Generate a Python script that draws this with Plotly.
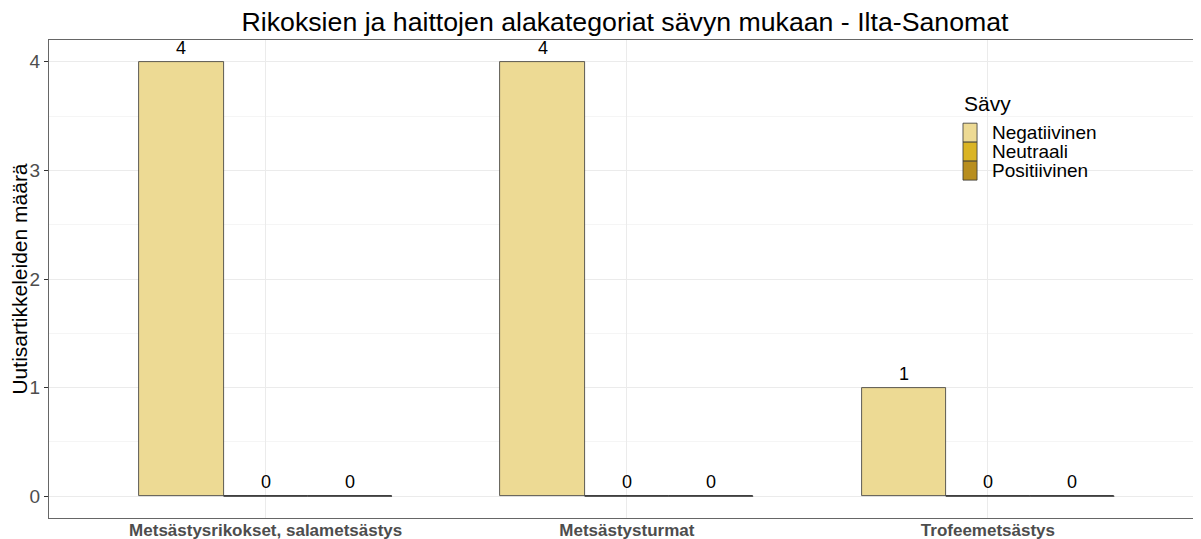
import plotly.graph_objects as go

# Data
categories = ["Metsästysrikokset, salametsästys", "Metsästysturmat", "Trofeemetsästys"]
savy = ["Negatiivinen", "Neutraali", "Positiivinen"]
negatiivinen = [4, 4, 1]
neutraali = [0, 0, 0]
positiivinen = [0, 0, 0]
colors = ["#EDDA94", "#DAB424", "#B88E1E"]

series = [negatiivinen, neutraali, positiivinen]
bar_w = 0.7 / 3

fig = go.Figure()
labels = []
for k, (name, vals, col) in enumerate(zip(savy, series, colors)):
    xs = [i + (k - 1) * bar_w for i in range(len(categories))]
    fig.add_trace(go.Bar(x=xs, y=vals, width=bar_w, name=name,
                         marker=dict(color=col, line=dict(color="#333333", width=0.8))))
    # zero-height bars are not drawn by plotly, so draw their outline
    lx, ly = [], []
    for x, v in zip(xs, vals):
        if v == 0:
            lx += [x - bar_w / 2, x + bar_w / 2, None]
            ly += [0, 0, None]
        labels.append(dict(x=x, y=v, text=str(v), showarrow=False, yanchor="bottom", yshift=2,
                           font=dict(size=18, color="black")))
    if lx:
        fig.add_trace(go.Scatter(x=lx, y=ly, mode="lines", showlegend=False, hoverinfo="skip",
                                 line=dict(color="#333333", width=1)))

# ggplot-style legend (stacked key boxes), placed in paper coordinates
leg_x, leg_top, key_h, key_w = 0.7934, 0.826, 0.0397, 0.0122
labels.append(dict(x=leg_x - 0.001, y=0.868, xref="paper", yref="paper", text="Sävy",
                   showarrow=False, xanchor="left", yanchor="middle",
                   font=dict(size=21, color="black")))
shapes = []
for k, (name, col) in enumerate(zip(savy, colors)):
    y1 = leg_top - k * key_h
    shapes.append(dict(type="rect", xref="paper", yref="paper", x0=leg_x, x1=leg_x + key_w,
                       y0=y1 - key_h, y1=y1, fillcolor=col, line=dict(color="#333333", width=0.8)))
    labels.append(dict(x=leg_x + 0.0234, y=y1 - key_h / 2, xref="paper", yref="paper", text=name,
                       showarrow=False, xanchor="left", yanchor="middle",
                       font=dict(size=19, color="black")))

fig.update_layout(
    width=1193, height=531,
    paper_bgcolor="white", plot_bgcolor="white",
    margin=dict(l=41, r=0, t=32, b=21),
    font=dict(family="Liberation Sans, Arial", color="#4D4D4D"),
    annotations=labels,
    shapes=shapes,
    showlegend=False,
    title=dict(text="Rikoksien ja haittojen alakategoriat sävyn mukaan - Ilta-Sanomat",
               x=0.5, xref="paper", xanchor="center", y=0.974, yanchor="middle",
               font=dict(size=26.7, color="black")),
    xaxis=dict(range=[-0.6, 2.59], tickvals=list(range(len(categories))),
               ticktext=["<b>%s</b>" % c for c in categories],
               tickfont=dict(size=17, color="#4D4D4D"), ticklabelstandoff=-3,
               showgrid=True, gridcolor="#EBEBEB", zeroline=False,
               showline=True, linecolor="#666666", linewidth=1, mirror=True,
               ticks="", automargin=False),
    yaxis=dict(range=[-0.2, 4.2], tickvals=[0, 1, 2, 3, 4],
               tickfont=dict(size=19, color="#4D4D4D"),
               title=dict(text="Uutisartikkeleiden määrä", font=dict(size=21, color="black"), standoff=8),
               showgrid=True, gridcolor="#EBEBEB", zeroline=False,
               minor=dict(dtick=0.5, tick0=0, showgrid=True, gridcolor="#F5F5F5"),
               showline=True, linecolor="#666666", linewidth=1, mirror=True,
               ticks="outside", ticklen=4, tickcolor="#333333", automargin=False),
    bargap=0,
)

fig.write_html("out.html")
